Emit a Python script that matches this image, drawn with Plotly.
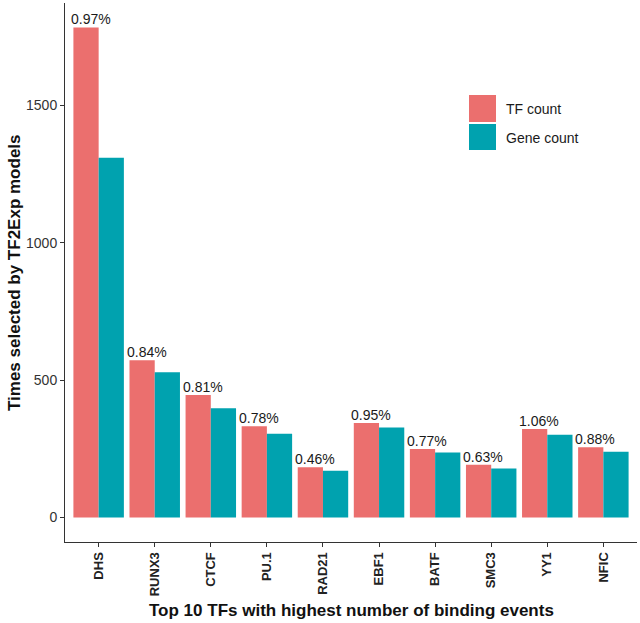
import plotly.graph_objects as go

categories = ["DHS", "RUNX3", "CTCF", "PU.1", "RAD21", "EBF1", "BATF", "SMC3", "YY1", "NFIC"]
tf_count = [1783, 572, 446, 332, 183, 344, 249, 192, 322, 256]
gene_count = [1309, 529, 398, 305, 170, 328, 237, 178, 301, 239]
pct_labels = ["0.97%", "0.84%", "0.81%", "0.78%", "0.46%", "0.95%", "0.77%", "0.63%", "1.06%", "0.88%"]
y_ticks = [0, 500, 1000, 1500]
series_names = ["TF count", "Gene count"]

C_TF = "#EB6F6E"
C_GENE = "#00A2AF"
FONT = "Liberation Sans, Arial, sans-serif"

fig = go.Figure()
fig.add_trace(go.Bar(x=categories, y=tf_count, name=series_names[0], marker_color=C_TF,
                     marker_line_width=0, showlegend=False))
fig.add_trace(go.Bar(x=categories, y=gene_count, name=series_names[1], marker_color=C_GENE,
                     marker_line_width=0, showlegend=False))

annotations = []
for c, v, t in zip(categories, tf_count, pct_labels):
    annotations.append(dict(x=c, y=v, text=t, showarrow=False, xref="x", yref="y",
                            yanchor="bottom", xanchor="center", xshift=-8, yshift=-2,
                            font=dict(family=FONT, size=14, color="#1a1a1a")))

# custom legend (ggplot style keys)
px0, px1 = 65, 637
py_top, py_bot = 3, 542
def xp(px):
    return (px - px0) / (px1 - px0)
def yp(py):
    return (py_bot - py) / (py_bot - py_top)

shapes = [
    dict(type="rect", xref="paper", yref="paper", x0=xp(469), x1=xp(496), y0=yp(122), y1=yp(95),
         fillcolor=C_TF, line=dict(width=0)),
    dict(type="rect", xref="paper", yref="paper", x0=xp(469), x1=xp(496), y0=yp(150), y1=yp(124),
         fillcolor=C_GENE, line=dict(width=0)),
]
annotations.append(dict(x=xp(504), y=yp(109), xref="paper", yref="paper", text=series_names[0],
                        showarrow=False, xanchor="left", yanchor="middle",
                        font=dict(family=FONT, size=14, color="#1a1a1a")))
annotations.append(dict(x=xp(504), y=yp(138), xref="paper", yref="paper", text=series_names[1],
                        showarrow=False, xanchor="left", yanchor="middle",
                        font=dict(family=FONT, size=14, color="#1a1a1a")))
# axis titles as annotations for precise placement
annotations.append(dict(x=xp(351), y=yp(610), xref="paper", yref="paper",
                        text="<b>Top 10 TFs with highest number of binding events</b>",
                        showarrow=False, xanchor="center", yanchor="middle",
                        font=dict(family=FONT, size=17, color="#111111")))
annotations.append(dict(x=xp(14), y=yp(273), xref="paper", yref="paper",
                        text="<b>Times selected by TF2Exp models</b>", textangle=-90,
                        showarrow=False, xanchor="center", yanchor="middle",
                        font=dict(family=FONT, size=17, color="#111111")))

fig.update_layout(
    width=640, height=623,
    margin=dict(l=65, r=3, t=3, b=81, autoexpand=False),
    paper_bgcolor="white", plot_bgcolor="white",
    barmode="group", bargap=0.1, bargroupgap=0,
    font=dict(family=FONT, size=13, color="#1a1a1a"),
    annotations=annotations, shapes=shapes,
)
fig.update_xaxes(
    type="category", range=[-0.6, 9.6], automargin=False,
    showline=True, linecolor="#333333", linewidth=1,
    ticks="outside", ticklen=4, tickcolor="#333333", tickangle=-90,
    tickfont=dict(family=FONT, size=13, color="#222222", weight="bold"),
    showgrid=False, zeroline=False,
)
fig.update_yaxes(
    range=[-89, 1872], automargin=False,
    tickvals=y_ticks, ticktext=[str(v) for v in y_ticks],
    showline=True, linecolor="#333333", linewidth=1,
    ticks="outside", ticklen=4, tickcolor="#333333",
    tickfont=dict(family=FONT, size=14, color="#333333"),
    showgrid=False, zeroline=False,
)

fig.write_html("out.html", config={"displayModeBar": False},
               post_script="document.body.style.margin='0';document.body.style.overflow='hidden';")
